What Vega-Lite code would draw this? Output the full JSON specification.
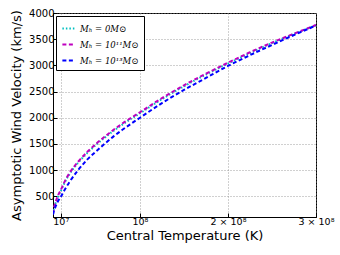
{
  "$schema": "https://vega.github.io/schema/vega-lite/v6.json",
  "width": 263,
  "height": 204,
  "autosize": {"type": "none"},
  "padding": {"left": 53, "top": 13, "right": 24, "bottom": 38},
  "background": "white",
  "config": {
    "view": {"stroke": "black", "strokeWidth": 1},
    "font": "DejaVu Sans"
  },
  "data": {
    "values": [
      {"T": 1.2e6, "v": 160, "s": "c"}, {"T": 2e6, "v": 240, "s": "c"}, {"T": 4e6, "v": 365, "s": "c"}, {"T": 7e6, "v": 500, "s": "c"}, {"T": 1e7, "v": 600, "s": "c"}, {"T": 1.5e7, "v": 780, "s": "c"}, {"T": 2e7, "v": 925, "s": "c"}, {"T": 3e7, "v": 1145, "s": "c"}, {"T": 4e7, "v": 1325, "s": "c"}, {"T": 5e7, "v": 1480, "s": "c"}, {"T": 6e7, "v": 1620, "s": "c"}, {"T": 7e7, "v": 1750, "s": "c"}, {"T": 8e7, "v": 1870, "s": "c"}, {"T": 1e8, "v": 2085, "s": "c"}, {"T": 1.25e8, "v": 2355, "s": "c"}, {"T": 1.5e8, "v": 2600, "s": "c"}, {"T": 1.75e8, "v": 2825, "s": "c"}, {"T": 2e8, "v": 3035, "s": "c"}, {"T": 2.25e8, "v": 3235, "s": "c"}, {"T": 2.5e8, "v": 3425, "s": "c"}, {"T": 2.75e8, "v": 3600, "s": "c"}, {"T": 3e8, "v": 3765, "s": "c"},
      {"T": 1.2e6, "v": 165, "s": "m"}, {"T": 2e6, "v": 250, "s": "m"}, {"T": 4e6, "v": 380, "s": "m"}, {"T": 7e6, "v": 520, "s": "m"}, {"T": 1e7, "v": 620, "s": "m"}, {"T": 1.5e7, "v": 800, "s": "m"}, {"T": 2e7, "v": 945, "s": "m"}, {"T": 3e7, "v": 1165, "s": "m"}, {"T": 4e7, "v": 1345, "s": "m"}, {"T": 5e7, "v": 1500, "s": "m"}, {"T": 6e7, "v": 1640, "s": "m"}, {"T": 7e7, "v": 1770, "s": "m"}, {"T": 8e7, "v": 1890, "s": "m"}, {"T": 1e8, "v": 2105, "s": "m"}, {"T": 1.25e8, "v": 2375, "s": "m"}, {"T": 1.5e8, "v": 2620, "s": "m"}, {"T": 1.75e8, "v": 2840, "s": "m"}, {"T": 2e8, "v": 3050, "s": "m"}, {"T": 2.25e8, "v": 3250, "s": "m"}, {"T": 2.5e8, "v": 3435, "s": "m"}, {"T": 2.75e8, "v": 3605, "s": "m"}, {"T": 3e8, "v": 3770, "s": "m"},
      {"T": 1.2e6, "v": 150, "s": "b"}, {"T": 2e6, "v": 210, "s": "b"}, {"T": 4e6, "v": 300, "s": "b"}, {"T": 7e6, "v": 410, "s": "b"}, {"T": 1e7, "v": 490, "s": "b"}, {"T": 1.5e7, "v": 640, "s": "b"}, {"T": 2e7, "v": 775, "s": "b"}, {"T": 3e7, "v": 1005, "s": "b"}, {"T": 4e7, "v": 1200, "s": "b"}, {"T": 5e7, "v": 1355, "s": "b"}, {"T": 6e7, "v": 1505, "s": "b"}, {"T": 7e7, "v": 1645, "s": "b"}, {"T": 8e7, "v": 1770, "s": "b"}, {"T": 1e8, "v": 2000, "s": "b"}, {"T": 1.25e8, "v": 2280, "s": "b"}, {"T": 1.5e8, "v": 2530, "s": "b"}, {"T": 1.75e8, "v": 2760, "s": "b"}, {"T": 2e8, "v": 2990, "s": "b"}, {"T": 2.25e8, "v": 3195, "s": "b"}, {"T": 2.5e8, "v": 3390, "s": "b"}, {"T": 2.75e8, "v": 3580, "s": "b"}, {"T": 3e8, "v": 3760, "s": "b"}
    ]
  },
  "mark": {"type": "line", "strokeWidth": 2, "interpolate": "monotone", "clip": true},
  "encoding": {
    "x": {
      "field": "T", "type": "quantitative",
      "scale": {"domain": [1.2e6, 3e8], "nice": false, "zero": false},
      "axis": {
        "values": [1e7, 1e8, 2e8, 3e8],
        "labelExpr": "datum.value == 1e7 ? '10⁷' : datum.value == 1e8 ? '10⁸' : datum.value == 2e8 ? '2 × 10⁸' : '3 × 10⁸'",
        "labelFont": "DejaVu Sans", "labelFontSize": 9.5, "labelColor": "black",
        "labelPadding": 3, "labelFlush": false, "labelOverlap": false,
        "tickSize": -4, "tickColor": "black",
        "domainColor": "black",
        "grid": true, "gridColor": "#888", "gridDash": [1, 2], "gridWidth": 0.8,
        "title": "Central Temperature (K)", "titleFont": "DejaVu Sans", "titleFontSize": 13,
        "titleFontWeight": "normal", "titleColor": "black", "titlePadding": 4
      }
    },
    "y": {
      "field": "v", "type": "quantitative",
      "scale": {"domain": [105, 4000], "nice": false, "zero": false},
      "axis": {
        "values": [500, 1000, 1500, 2000, 2500, 3000, 3500, 4000],
        "format": "d",
        "labelFont": "DejaVu Sans", "labelFontSize": 10, "labelColor": "black",
        "labelPadding": 3, "labelFlush": false, "labelOverlap": false,
        "tickSize": -4, "tickColor": "black",
        "domainColor": "black",
        "grid": true, "gridColor": "#888", "gridDash": [1, 2], "gridWidth": 0.8,
        "title": "Asymptotic Wind Velocity (km/s)", "titleFont": "DejaVu Sans", "titleFontSize": 13,
        "titleFontWeight": "normal", "titleColor": "black", "titlePadding": 5
      }
    },
    "color": {
      "field": "s", "type": "nominal",
      "scale": {"domain": ["c", "m", "b"], "range": ["#00BFBF", "#BF00BF", "#0000FF"]},
      "legend": {
        "orient": "top-left", "offset": 3, "title": null,
        "labelExpr": "datum.value == 'c' ? 'Mₕ = 0M⊙' : datum.value == 'm' ? 'Mₕ = 10¹¹M⊙' : 'Mₕ = 10¹³M⊙'",
        "labelFont": "DejaVu Serif", "labelFontStyle": "italic", "labelFontSize": 8.5, "labelColor": "black",
        "symbolType": "stroke", "symbolStrokeWidth": 2, "symbolSize": 150,
        "rowPadding": 4, "padding": 5,
        "strokeColor": "black", "fillColor": "white", "cornerRadius": 0
      }
    },
    "strokeDash": {
      "field": "s", "type": "nominal",
      "scale": {"domain": ["c", "m", "b"], "range": [[1.5, 2], [4, 2.5], [4, 2.5]]},
      "legend": {
        "orient": "top-left", "offset": 3, "title": null,
        "labelExpr": "datum.value == 'c' ? 'Mₕ = 0M⊙' : datum.value == 'm' ? 'Mₕ = 10¹¹M⊙' : 'Mₕ = 10¹³M⊙'",
        "labelFont": "DejaVu Serif", "labelFontStyle": "italic", "labelFontSize": 8.5, "labelColor": "black",
        "symbolType": "stroke", "symbolStrokeWidth": 2, "symbolSize": 150,
        "rowPadding": 4, "padding": 5,
        "strokeColor": "black", "fillColor": "white", "cornerRadius": 0
      }
    }
  }
}
